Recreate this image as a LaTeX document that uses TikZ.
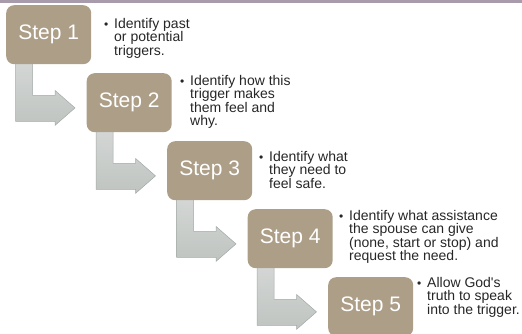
\documentclass[tikz,border=0pt]{standalone}
\usepackage{fontspec}
\setmainfont{Liberation Sans}
\usepackage{tikz}
\usetikzlibrary{calc}
\usetikzlibrary{backgrounds}
\definecolor{boxtan}{HTML}{AD9E88}
\definecolor{barmauve}{HTML}{A89BAC}
\definecolor{arrowlight}{HTML}{D3D6D4}
\definecolor{arrowdark}{HTML}{BFC4C1}
\definecolor{arrowedge}{HTML}{A3AAA6}
\definecolor{notegray}{HTML}{262626}

\begin{document}
\begin{tikzpicture}[x=1pt,y=-1pt]
	\tikzset{
		stepbox/.style={anchor=north west,fill=boxtan,rounded corners=8pt,minimum width=85pt,minimum height=59pt,inner sep=0,text=white,font=\fontsize{21}{21}\selectfont},
		%
		note/.style={anchor=north west,inner sep=0,align=left,text=notegray,font=\fontsize{14}{13.5}\selectfont},
		dot/.style={anchor=base west,inner sep=0,text=notegray,font=\fontsize{12}{13.5}\selectfont},
		%
		bentarrow/.style={top color=arrowlight,bottom color=arrowdark,draw=arrowedge,line width=0.5pt,line join=miter}
	}
	
	\useasboundingbox (0,0) rectangle (522,333);
	\fill[barmauve] (0,0) rectangle (522,3);
	
	\foreach \i in {1,...,5}{
		\node[stepbox] (s\i) at (6+80.5*\i-80.5, 5+68*\i-68) {Step \i};
	}
	
	\foreach \i/\tx/\ty/\txt in {1/114/18/{Identify past\\or potential\\triggers.},
		2/190/75/{Identify how this\\trigger makes\\them feel and\\why.},
		3/269/151/{Identify what\\they need to\\feel safe.},
		4/349/210/{Identify what assistance\\the spouse can give\\(none, start or stop) and\\request the need.},
		5/427/277/{Allow God\textquotesingle s\\truth to speak\\into the trigger.}}{
		\node[note] (t\i) at (\tx,\ty) {\txt};
		\node[dot] (b\i) at ($(t\i.north west)+(-10,10)$) {\textbullet};
	}
	
	\begin{scope}[on background layer]
	\foreach \i in {1,...,4}{
		\draw[bentarrow] ($(s\i.south west)+(9.5,-1)$) -- ++(17,0) -- ++(0,32) -- ++(22.5,0) -- ++(0,-5)
			-- ++(20,17.5) -- ++(-20,17.5) -- ++(0,-4) -- ++(-39.5,0) -- cycle;
	}
	\end{scope}
\end{tikzpicture}
\end{document}
